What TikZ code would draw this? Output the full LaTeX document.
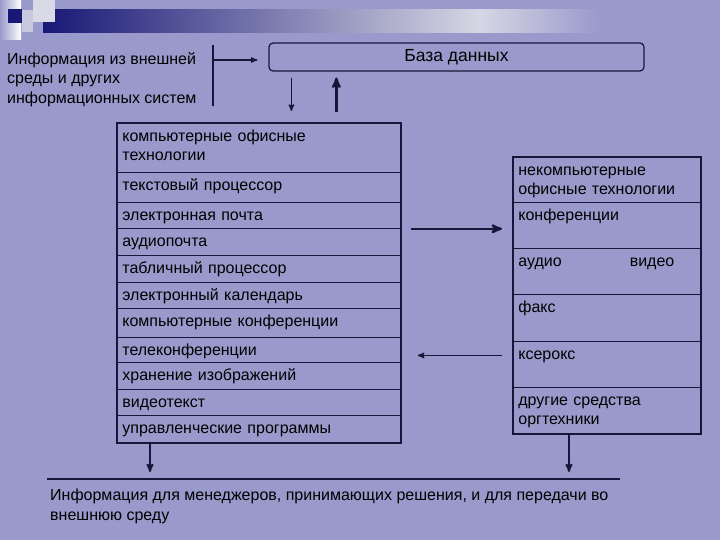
\documentclass[tikz,border=0pt]{standalone}
\usepackage{fontspec}
\setmainfont{Liberation Sans}
\usepackage{tikz}
\usetikzlibrary{arrows}

\definecolor{slide}{RGB}{153,153,204}
\definecolor{ink}{RGB}{22,22,58}
\definecolor{navy}{RGB}{24,24,118}
\definecolor{haze}{RGB}{214,214,228}

\begin{document}
\begin{tikzpicture}
[x=1pt,y=-1pt,>=stealth',font=\fontsize{16}{19.5}\selectfont,
  cell/.style={draw=ink,line width=0.8pt,anchor=north west,align=left,
    inner xsep=5pt,inner ysep=3pt,text height=15pt},
  frame/.style={draw=ink,line width=1.6pt},
  thin arrow/.style={->,draw=ink,line width=1.3pt},
  thick arrow/.style={->,draw=ink,line width=2.4pt},
  plain/.style={anchor=north west,align=left,inner sep=0pt}]

  % slide background and title bar
  \fill[slide] (0,0) rectangle (720,540);
  \useasboundingbox (0,0) rectangle (720,540);
  \shade[left color=navy,right color=haze] (43,10) rectangle (480,33);
  \shade[left color=haze,right color=slide] (480,10) rectangle (600,33);
  \shade[left color=slide,right color=white] (0,0) rectangle (21,40);
  \fill[haze!90!white] (33,0) rectangle (55,22);
  \fill[haze!75!slide] (22,10) rectangle (33,32);
  \fill[navy] (8,9) rectangle (22,23);

  \node [plain] (Ext) at (7,52) {Информация из внешней\\среды и других\\информационных систем};
  \node [draw=ink,line width=1.2pt,rounded corners=4pt,minimum width=375pt,
    minimum height=28pt,font=\fontsize{17.5}{20}\selectfont] (DB) at (456.5,57) {База данных};

  % left column
  \foreach \n/\t/\d/\txt in {L1/123/28/{компьютерные офисные\\технологии},
      L2/172/9/текстовый процессор, L3/202/5/электронная почта,
      L4/228/6/аудиопочта, L5/255/6/табличный процессор,
      L6/282/5/электронный календарь, L7/308/8/компьютерные конференции,
      L8/337/4/телеконференции, L9/362/6/хранение изображений,
      L10/389/5/видеотекст, L11/415/6/управленческие программы}
    \node [cell,text width=273pt,text depth=\d pt] (\n) at (117,\t) {\txt};
  \draw [frame] (L1.north west) rectangle (L11.south east);

  % right column
  \foreach \n/\t/\d/\txt in {R1/157/24/{некомпьютерные\\офисные технологии},
      R2/202/25/конференции, R3/248/25/{аудио\hspace{68pt}видео},
      R4/294/26/факс, R5/341/25/ксерокс, R6/387/25/{другие средства\\оргтехники}}
    \node [cell,text width=177pt,text depth=\d pt] (\n) at (513,\t) {\txt};
  \draw [frame] (R1.north west) rectangle (R6.south east);

  \coordinate (Vtop) at (213,45);
  \coordinate (Vbot) at (213,106);
  \coordinate (Vmid) at (213,60);
  \draw [ink,line width=2.2pt] (Vtop) -- (Vbot);
  \draw [thin arrow,shorten >=11pt] (Vmid) -- (Vmid -| DB.west);

  \draw [thin arrow,shorten <=6pt,shorten >=12pt] ([xshift=23pt]DB.south west) -- ([xshift=23pt]DB.south west |- L1.north);
  \draw [thick arrow,shorten <=11pt,shorten >=6pt] ([xshift=68pt]DB.south west |- L1.north) -- ([xshift=68pt]DB.south west);

  \draw [thick arrow,shorten <=10pt,shorten >=11pt] (L3.south east) -- (L3.south east -| R1.west);
  \draw [thin arrow,shorten <=11pt,shorten >=17pt] ([yshift=-5.5pt]L8.east -| R1.west) -- ([yshift=-5.5pt]L8.east);

  % output line
  \coordinate (Ba) at (47,479);
  \coordinate (Bb) at (620,479);
  \draw [ink,line width=2pt] (Ba) -- (Bb);
  \draw [thin arrow,line width=1.8pt,shorten >=7pt] ([xshift=33pt]L11.south west) -- ([xshift=33pt]L11.south west |- Ba);
  \draw [thin arrow,line width=1.8pt,shorten >=7pt] ([xshift=56pt]R6.south west) -- ([xshift=56pt]R6.south west |- Ba);

  \node [plain] (Out) at (50,489) {Информация для менеджеров, принимающих решения, и для передачи во\\внешнюю среду};

\end{tikzpicture}
\end{document}
